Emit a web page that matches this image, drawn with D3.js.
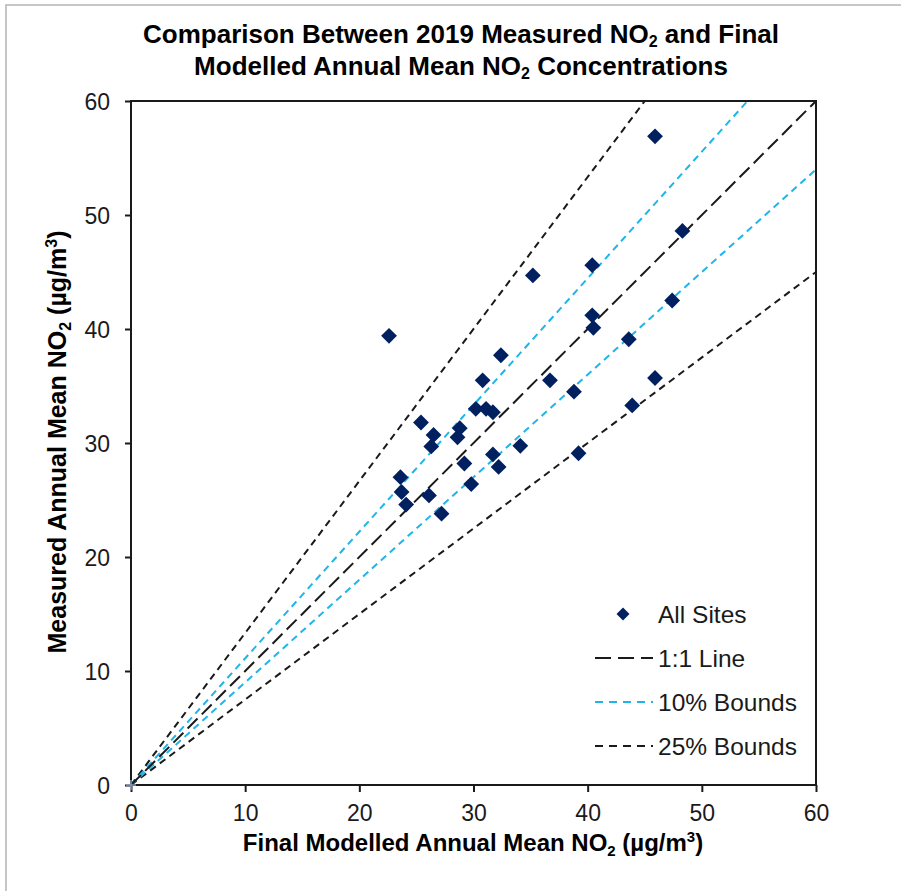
<!DOCTYPE html>
<html>
<head>
<meta charset="utf-8">
<script src="https://cdnjs.cloudflare.com/ajax/libs/d3/7.8.5/d3.min.js"></script>
<style>
  html, body { margin: 0; padding: 0; background: #fff; }
  svg { display: block; font-family: "Liberation Sans", Arial, sans-serif; }
</style>
</head>
<body>
<svg id="chart" width="901" height="891"></svg>
<script>
// Final modelled vs measured annual mean NO2 (µg/m³), one pair per site
const modelled = [45.9, 48.3, 40.4, 35.2, 47.4, 40.4, 40.5, 43.6, 22.6, 32.4,
                  36.7, 30.8, 45.9, 38.8, 30.2, 31.1, 31.7, 43.9, 25.4, 28.8,
                  28.6, 26.5, 26.3, 34.1, 39.2, 31.7, 29.2, 32.2, 23.6, 29.8,
                  23.7, 26.1, 24.1, 27.2];
const measured = [56.9, 48.6, 45.6, 44.7, 42.5, 41.2, 40.1, 39.1, 39.4, 37.7,
                  35.5, 35.5, 35.7, 34.5, 33.0, 33.0, 32.7, 33.3, 31.8, 31.3,
                  30.5, 30.7, 29.7, 29.75, 29.1, 29.0, 28.2, 27.9, 27.0, 26.4,
                  25.7, 25.4, 24.6, 23.8];

const xTicks = [0, 10, 20, 30, 40, 50, 60];
const yTicks = [0, 10, 20, 30, 40, 50, 60];

// Reference lines: slope of measured against modelled
const refLines = [
  { name: "25% Bounds", slopes: [1 / 0.75, 0.75], color: "#1a1a1a", dash: "7,5" },
  { name: "10% Bounds", slopes: [1 / 0.9, 0.9],   color: "#1fb4ea", dash: "7,5" },
  { name: "1:1 Line",   slopes: [1],              color: "#1a1a1a", dash: "14,6" }
];

const svg = d3.select("#chart");
const plot = { left: 131, right: 816, top: 101, bottom: 785 };

const x = d3.scaleLinear().domain([0, 60]).range([plot.left, plot.right]);
const y = d3.scaleLinear().domain([0, 60]).range([plot.bottom, plot.top]);

// outer frame
svg.append("rect")
  .attr("x", 6).attr("y", 5).attr("width", 905).attr("height", 900)
  .attr("fill", "none").attr("stroke", "#b8b8b8").attr("stroke-width", 1.6);

// title, two lines with NO2 subscripts
const titleLines = [
  { y: 43, parts: ["Comparison Between 2019 Measured NO", "2", " and Final"] },
  { y: 75, parts: ["Modelled Annual Mean NO", "2", " Concentrations"] }
];
titleLines.forEach(l => {
  const t = svg.append("text")
    .attr("x", 461).attr("y", l.y).attr("text-anchor", "middle")
    .attr("font-weight", "bold").attr("font-size", 26).attr("fill", "#000");
  t.append("tspan").text(l.parts[0]);
  t.append("tspan").attr("font-size", 16).attr("dy", 4).text(l.parts[1]);
  t.append("tspan").attr("dy", -4).text(l.parts[2]);
});

// clip for reference lines
svg.append("defs").append("clipPath").attr("id", "plotClip")
  .append("rect")
  .attr("x", plot.left).attr("y", plot.top)
  .attr("width", plot.right - plot.left).attr("height", plot.bottom - plot.top);

const lineGen = d3.line().x(d => x(d[0])).y(d => y(d[1]));
const linesG = svg.append("g").attr("clip-path", "url(#plotClip)");
refLines.forEach(r => {
  r.slopes.forEach(s => {
    linesG.append("path")
      .attr("d", lineGen([[0, 0], [60, 60 * s]]))
      .attr("fill", "none")
      .attr("stroke", r.color)
      .attr("stroke-width", 2)
      .attr("stroke-dasharray", r.dash);
  });
});

// axes
const xAxis = d3.axisBottom(x).tickValues(xTicks).tickSizeOuter(0).tickSizeInner(7).tickPadding(13);
const yAxis = d3.axisLeft(y).tickValues(yTicks).tickSizeOuter(0).tickSizeInner(6).tickPadding(15);

const gx = svg.append("g").attr("transform", `translate(0,${plot.bottom})`).call(xAxis);
const gy = svg.append("g").attr("transform", `translate(${plot.left},0)`).call(yAxis);
[gx, gy].forEach(g => {
  g.select(".domain").remove();
  g.selectAll(".tick line").attr("stroke", "#1a1a1a").attr("stroke-width", 2);
  g.selectAll(".tick text").attr("font-size", 23).attr("fill", "#1a1a1a")
    .attr("font-family", "Liberation Sans, Arial, sans-serif");
});
gx.selectAll(".tick text").attr("dy", "0.71em");
gy.selectAll(".tick text").attr("dy", "0.36em");

// plot border
svg.append("rect")
  .attr("x", plot.left).attr("y", plot.top)
  .attr("width", plot.right - plot.left).attr("height", plot.bottom - plot.top)
  .attr("fill", "none").attr("stroke", "#1a1a1a").attr("stroke-width", 2);

// origin marker
svg.append("path")
  .attr("d", `M${x(0) - 5},${y(0)}H${x(0) + 5}M${x(0)},${y(0) - 5}V${y(0) + 5}`)
  .attr("stroke", "#8a9cc4").attr("stroke-width", 1.5);

// points
const diamond = d3.symbol().type(d3.symbolSquare).size(125);
svg.append("g").selectAll("path")
  .data(d3.zip(modelled, measured))
  .join("path")
  .attr("d", diamond)
  .attr("transform", d => `translate(${x(d[0])},${y(d[1])}) rotate(45)`)
  .attr("fill", "#002060");

// axis titles
const xt = svg.append("text")
  .attr("x", 473).attr("y", 851).attr("text-anchor", "middle")
  .attr("font-weight", "bold").attr("font-size", 24).attr("fill", "#000");
xt.append("tspan").text("Final Modelled Annual Mean NO");
xt.append("tspan").attr("font-size", 15).attr("dy", 5).text("2");
xt.append("tspan").attr("dy", -5).text(" (µg/m");
xt.append("tspan").attr("font-size", 15).attr("dy", -9).text("3");
xt.append("tspan").attr("dy", 9).text(")");

const yt = svg.append("text")
  .attr("transform", "translate(66,442) rotate(-90)").attr("text-anchor", "middle")
  .attr("font-weight", "bold").attr("font-size", 25).attr("fill", "#000");
yt.append("tspan").text("Measured Annual Mean NO");
yt.append("tspan").attr("font-size", 16).attr("dy", 5).text("2");
yt.append("tspan").attr("dy", -5).text(" (µg/m");
yt.append("tspan").attr("font-size", 16).attr("dy", -9).text("3");
yt.append("tspan").attr("dy", 9).text(")");

// legend
const legend = svg.append("g");
const legendItems = [
  { label: "All Sites", type: "point", y: 614 },
  { label: "1:1 Line", type: "line", ref: refLines[2], y: 658 },
  { label: "10% Bounds", type: "line", ref: refLines[1], y: 702 },
  { label: "25% Bounds", type: "line", ref: refLines[0], y: 746 }
];
legendItems.forEach(it => {
  if (it.type === "point") {
    legend.append("path").attr("d", d3.symbol().type(d3.symbolSquare).size(85))
      .attr("transform", `translate(623,${it.y}) rotate(45)`).attr("fill", "#002060");
  } else {
    legend.append("line")
      .attr("x1", 595).attr("x2", 653).attr("y1", it.y).attr("y2", it.y)
      .attr("stroke", it.ref.color).attr("stroke-width", 2)
      .attr("stroke-dasharray", it.ref === refLines[2] ? "16,7" : "8,6");
  }
  legend.append("text")
    .attr("x", 658).attr("y", it.y).attr("dy", "0.36em")
    .attr("font-size", 24.5).attr("fill", "#1a1a1a").text(it.label);
});
</script>
</body>
</html>
